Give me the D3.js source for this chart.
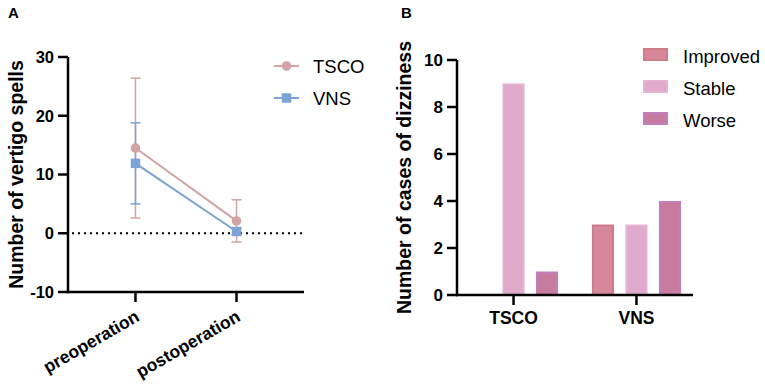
<!DOCTYPE html>
<html>
<head>
<meta charset="utf-8">
<script src="https://cdn.jsdelivr.net/npm/d3@7"></script>
<style>
  body { margin: 0; background: #fff; }
  svg { font-family: "Liberation Sans", Arial, sans-serif; }
</style>
</head>
<body>
<svg id="chart" width="765" height="387"></svg>
<script>
// Panel A: vertigo spells (mean ± error)
const timepoints = ["preoperation", "postoperation"];
const tscoMean = [14.5, 2.1];
const tscoErr = [11.9, 3.6];
const vnsMean = [11.9, 0.3];
const vnsErr = [6.9, 0.6];
const ticksA = [-10, 0, 10, 20, 30];

// Panel B: cases of dizziness
const groups = ["TSCO", "VNS"];
const outcomes = ["Improved", "Stable", "Worse"];
const improved = [0, 3];
const stable = [9, 3];
const worse = [1, 4];
const ticksB = [0, 2, 4, 6, 8, 10];

const svg = d3.select("#chart");

// ---------- Panel A ----------
const seriesA = [
    { name: "TSCO", mean: tscoMean, err: tscoErr, color: "#d4a3a5", shape: "circle" },
    { name: "VNS", mean: vnsMean, err: vnsErr, color: "#7ba3d6", shape: "square" }
];

const xA = d3.scalePoint().domain(timepoints).range([68, 304]).padding(0.668);
const yA = d3.scaleLinear().domain([-10, 30]).range([292, 57]);

const gA = svg.append("g");

// zero reference line
gA.append("line")
    .attr("x1", 72).attr("x2", 304)
    .attr("y1", yA(0)).attr("y2", yA(0))
    .attr("stroke", "#000")
    .attr("stroke-width", 2)
    .attr("stroke-dasharray", "2 4");

seriesA.forEach(s => {
    const pts = timepoints.map((t, i) => ({ t, m: s.mean[i], e: s.err[i] }));
    const eb = gA.append("g").attr("stroke", s.color).attr("stroke-width", 1.5);
    pts.forEach(p => {
        const x = xA(p.t);
        eb.append("line").attr("x1", x).attr("x2", x).attr("y1", yA(p.m - p.e)).attr("y2", yA(p.m + p.e));
        eb.append("line").attr("x1", x - 5).attr("x2", x + 5).attr("y1", yA(p.m + p.e)).attr("y2", yA(p.m + p.e));
        eb.append("line").attr("x1", x - 5).attr("x2", x + 5).attr("y1", yA(p.m - p.e)).attr("y2", yA(p.m - p.e));
    });
});

seriesA.forEach(s => {
    const pts = timepoints.map((t, i) => ({ t, m: s.mean[i] }));
    gA.append("path")
        .datum(pts)
        .attr("fill", "none")
        .attr("stroke", s.color)
        .attr("stroke-width", 2)
        .attr("d", d3.line().x(d => xA(d.t)).y(d => yA(d.m)));
    const sym = d3.symbol().type(s.shape === "circle" ? d3.symbolCircle : d3.symbolSquare)
        .size(s.shape === "circle" ? 72 : 90);
    gA.selectAll(null)
        .data(pts)
        .enter().append("path")
        .attr("transform", d => `translate(${xA(d.t)},${yA(d.m)})`)
        .attr("d", sym)
        .attr("fill", s.color);
});

// axes A
const axA = gA.append("g").attr("stroke", "#000").attr("stroke-width", 2.5);
axA.append("line").attr("x1", 68).attr("x2", 68).attr("y1", 57).attr("y2", 293.2);
axA.append("line").attr("x1", 66.8).attr("x2", 304).attr("y1", 292).attr("y2", 292);
ticksA.forEach(t => {
    axA.append("line").attr("x1", 58).attr("x2", 68).attr("y1", yA(t)).attr("y2", yA(t));
});
timepoints.forEach(t => {
    axA.append("line").attr("x1", xA(t)).attr("x2", xA(t)).attr("y1", 292).attr("y2", 302);
});

gA.selectAll(".ytA")
    .data(ticksA)
    .enter().append("text")
    .attr("x", 54)
    .attr("y", d => yA(d))
    .attr("dy", "0.36em")
    .attr("text-anchor", "end")
    .style("font-size", "16.5px")
    .style("font-weight", "bold")
    .text(d => d);

gA.selectAll(".xtA")
    .data(timepoints)
    .enter().append("text")
    .attr("transform", d => `translate(${xA(d) + 5},${320}) rotate(-30)`)
    .attr("text-anchor", "end")
    .style("font-size", "17.5px")
    .style("font-weight", "bold")
    .text(d => d);

gA.append("text")
    .attr("transform", `translate(23,${(57 + 292) / 2}) rotate(-90)`)
    .attr("text-anchor", "middle")
    .style("font-size", "19.5px")
    .style("font-weight", "bold")
    .text("Number of vertigo spells");

gA.append("text")
    .attr("x", 8).attr("y", 18)
    .style("font-size", "15px")
    .style("font-weight", "bold")
    .text("A");

// legend A
seriesA.forEach((s, i) => {
    const ly = 66 + i * 32;
    gA.append("line")
        .attr("x1", 274).attr("x2", 299).attr("y1", ly).attr("y2", ly)
        .attr("stroke", s.color).attr("stroke-width", 2);
    gA.append("path")
        .attr("transform", `translate(286.5,${ly})`)
        .attr("d", d3.symbol().type(s.shape === "circle" ? d3.symbolCircle : d3.symbolSquare).size(s.shape === "circle" ? 72 : 90))
        .attr("fill", s.color);
    gA.append("text")
        .attr("x", 313).attr("y", ly + 7.3)
        .style("font-size", "18.5px")
        .text(s.name);
});

// ---------- Panel B ----------
const barColors = {
    Improved: { fill: "#d6889a", stroke: "#d07d89" },
    Stable: { fill: "#dfaacb", stroke: "#e5b2d2" },
    Worse: { fill: "#c77c9f", stroke: "#bf80bd" }
};
const barData = groups.map((g, i) => ({
    group: g,
    values: [
        { key: "Improved", value: improved[i] },
        { key: "Stable", value: stable[i] },
        { key: "Worse", value: worse[i] }
    ]
}));

const xB = d3.scalePoint().domain(groups).range([457, 693]).padding(0.46);
const xSub = d3.scaleBand().domain(outcomes).range([-50.25, 50.25]).paddingInner(0.34).paddingOuter(0.17);
const yB = d3.scaleLinear().domain([0, 10]).range([295, 60]);

const gB = svg.append("g");

barData.forEach(g => {
    gB.selectAll(null)
        .data(g.values.filter(v => v.value > 0))
        .enter().append("rect")
        .attr("x", d => xB(g.group) + xSub(d.key) + 1)
        .attr("y", d => yB(d.value) + 1)
        .attr("width", xSub.bandwidth() - 2)
        .attr("height", d => yB(0) - yB(d.value) - 1)
        .attr("fill", d => barColors[d.key].fill)
        .attr("stroke", d => barColors[d.key].stroke)
        .attr("stroke-width", 2);
});

const axB = gB.append("g").attr("stroke", "#000").attr("stroke-width", 2.5);
axB.append("line").attr("x1", 457).attr("x2", 457).attr("y1", 60).attr("y2", 296.2);
axB.append("line").attr("x1", 455.8).attr("x2", 693).attr("y1", 295).attr("y2", 295);
ticksB.forEach(t => {
    axB.append("line").attr("x1", 447).attr("x2", 457).attr("y1", yB(t)).attr("y2", yB(t));
});
groups.forEach(g => {
    axB.append("line").attr("x1", xB(g)).attr("x2", xB(g)).attr("y1", 295).attr("y2", 305);
});

gB.selectAll(".ytB")
    .data(ticksB)
    .enter().append("text")
    .attr("x", 443)
    .attr("y", d => yB(d))
    .attr("dy", "0.36em")
    .attr("text-anchor", "end")
    .style("font-size", "17px")
    .style("font-weight", "bold")
    .text(d => d);

gB.selectAll(".xtB")
    .data(groups)
    .enter().append("text")
    .attr("x", d => xB(d))
    .attr("y", 324)
    .attr("text-anchor", "middle")
    .style("font-size", "17.5px")
    .style("font-weight", "bold")
    .text(d => d);

gB.append("text")
    .attr("transform", `translate(411,${(60 + 295) / 2}) rotate(-90)`)
    .attr("text-anchor", "middle")
    .style("font-size", "19.5px")
    .style("font-weight", "bold")
    .text("Number of cases of dizziness");

gB.append("text")
    .attr("x", 401).attr("y", 18)
    .style("font-size", "15px")
    .style("font-weight", "bold")
    .text("B");

// legend B
outcomes.forEach((k, i) => {
    const ly = 54.5 + i * 32;
    gB.append("rect")
        .attr("x", 644).attr("y", ly - 5.5)
        .attr("width", 23).attr("height", 11)
        .attr("fill", barColors[k].fill)
        .attr("stroke", barColors[k].stroke)
        .attr("stroke-width", 2);
    gB.append("text")
        .attr("x", 683).attr("y", ly + 8.5)
        .style("font-size", "18.5px")
        .text(k);
});
</script>
</body>
</html>
